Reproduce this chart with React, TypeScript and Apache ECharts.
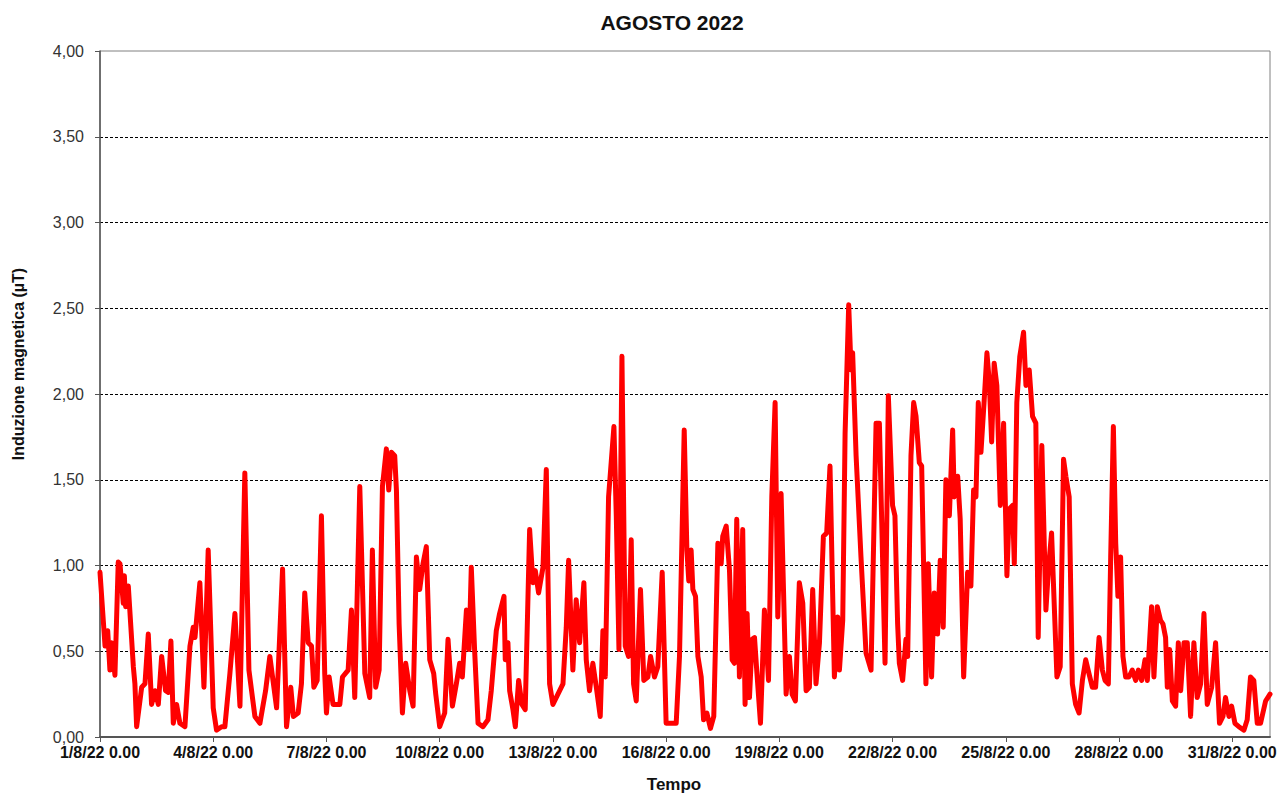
import React, { useEffect, useRef } from "react";
import * as echarts from "echarts";

const TITLE = "AGOSTO 2022";
const Y_NAME = "Induzione magnetica (µT)";
const X_NAME = "Tempo";

// hours since 1/8/22 0.00
const hours = [
  0, 3.2, 4.9, 6.3, 7.4, 9.5, 11.6, 12.7, 14.8, 15.5, 16.3, 18.0, 21.2, 22.2, 23.3, 26.5, 28.6, 30.7, 32.8, 35.0,
  37.1, 39.2, 41.7, 43.4, 45.1, 46.6, 48.7, 50.8, 54.0, 57.2, 59.3, 60.4, 63.5, 66.1, 68.8, 72.0, 74.1, 77.3, 79.4, 82.6,
  85.8, 89.0, 92.1, 94.7, 98.5, 101.7, 105.3, 108.0, 112.3, 116.1, 118.6, 121.3, 123.0, 126.0, 128.1, 130.2, 132.4, 134.5, 136.0, 138.1,
  140.8, 142.9, 144.0, 145.7, 148.2, 152.5, 154.2, 157.8, 159.9, 162.0, 165.2, 168.4, 171.5, 173.2, 175.3, 177.5, 179.6, 182.1, 183.6, 185.3,
  187.4, 188.5, 190.2, 192.3, 194.4, 197.0, 199.1, 201.2, 203.3, 205.4, 207.5, 209.7, 212.2, 213.5, 216.0, 219.2, 221.3, 224.1, 226.6, 228.7,
  230.4, 233.0, 234.7, 236.1, 238.2, 240.4, 243.5, 246.7, 248.8, 252.0, 254.1, 256.9, 257.7, 259.4, 260.5, 262.6, 264.1, 266.2, 268.3, 270.4,
  273.2, 275.3, 276.8, 278.9, 281.7, 283.8, 285.9, 288.0, 291.2, 294.4, 296.5, 298.0, 300.7, 302.8, 305.0, 307.7, 309.2, 311.3, 313.4, 315.6,
  318.1, 319.8, 321.3, 323.4, 326.8, 328.3, 330.0, 331.9, 334.0, 336.1, 337.8, 339.3, 341.0, 343.7, 345.8, 348.4, 350.1, 352.6, 354.7, 357.5,
  360.0, 363.2, 366.4, 368.5, 371.5, 373.2, 374.4, 375.9, 377.0, 378.7, 380.2, 382.3, 383.8, 385.9, 388.2, 390.3, 392.9, 395.0, 396.0, 398.2,
  400.3, 402.0, 403.4, 404.9, 406.6, 408.7, 410.2, 411.5, 413.0, 414.7, 416.2, 417.6, 420.0, 422.5, 425.1, 427.2, 429.3, 431.0, 433.1, 436.3,
  438.4, 440.1, 442.2, 444.7, 446.9, 449.0, 451.1, 453.2, 455.3, 457.5, 460.0, 462.1, 464.2, 467.0, 469.1, 470.2, 472.3, 473.8, 476.1, 477.6,
  478.6, 480.8, 483.9, 487.1, 490.3, 493.5, 495.6, 497.1, 499.2, 501.3, 504.0, 505.5, 507.2, 508.3, 510.4, 512.5, 513.6, 515.7, 517.4, 518.9,
  521.0, 522.5, 525.2, 526.7, 528.8, 530.5, 532.6, 534.3, 536.2, 537.9, 540.1, 542.2, 543.2, 545.4, 547.0, 549.2, 551.7, 553.8, 555.5, 557.0,
  558.5, 560.2, 562.3, 564.0, 565.5, 567.0, 568.6, 570.3, 572.5, 574.6, 576.7, 578.2, 580.3, 581.4, 583.0, 584.9, 587.3, 588.8, 590.9, 593.0,
  595.1, 596.6, 598.9, 601.5, 603.2, 605.1, 608.5, 610.6, 612.7, 614.2, 616.3, 618.3, 620.4, 622.6, 624.7, 626.8, 628.9, 631.0, 633.1, 635.3,
  637.4, 639.1, 641.2, 642.7, 644.4, 645.9, 647.3, 649.0, 650.5, 652.2, 654.3, 656.4, 658.6, 660.3, 662.4, 664.5, 666.0, 668.7, 670.2, 672.3,
  674.4, 675.9, 677.6, 678.7, 680.2, 681.9, 684.0, 685.7, 687.2, 689.3, 691.4, 693.5, 695.6, 697.7, 699.9, 702.0, 704.1, 706.9, 709.4, 711.9,
  714.1, 715.7, 717.9, 719.6, 721.7, 724.2, 727.4, 729.5, 731.6, 733.7, 735.9, 738.0, 741.2, 744.0,
];

// magnetic induction (µT)
const values = [
  0.96, 0.53, 0.62, 0.39, 0.55, 0.36, 1.02, 1.01, 0.78, 0.94, 0.76, 0.88, 0.41, 0.31, 0.06, 0.29, 0.31, 0.60, 0.19, 0.27,
  0.19, 0.47, 0.27, 0.26, 0.56, 0.08, 0.19, 0.08, 0.06, 0.53, 0.64, 0.58, 0.90, 0.29, 1.09, 0.17, 0.04, 0.06, 0.06, 0.37,
  0.72, 0.18, 1.54, 0.39, 0.12, 0.08, 0.27, 0.47, 0.17, 0.98, 0.06, 0.29, 0.12, 0.14, 0.31, 0.84, 0.55, 0.53, 0.29, 0.33,
  1.29, 0.37, 0.14, 0.35, 0.19, 0.19, 0.35, 0.39, 0.74, 0.23, 1.46, 0.37, 0.23, 1.09, 0.29, 0.39, 1.46, 1.68, 1.44, 1.66,
  1.64, 1.44, 0.66, 0.14, 0.43, 0.27, 0.18, 1.05, 0.86, 1.01, 1.11, 0.45, 0.37, 0.25, 0.06, 0.14, 0.57, 0.18, 0.31, 0.43,
  0.35, 0.74, 0.51, 0.99, 0.51, 0.08, 0.06, 0.10, 0.27, 0.62, 0.72, 0.82, 0.45, 0.55, 0.27, 0.16, 0.06, 0.33, 0.19, 0.16,
  1.21, 0.90, 0.97, 0.84, 0.99, 1.56, 0.31, 0.19, 0.25, 0.31, 0.64, 1.03, 0.39, 0.80, 0.55, 0.90, 0.45, 0.27, 0.43, 0.29,
  0.12, 0.62, 0.35, 1.40, 1.81, 1.29, 0.51, 2.22, 0.53, 0.47, 1.15, 0.31, 0.21, 0.86, 0.33, 0.35, 0.47, 0.35, 0.41, 0.96,
  0.08, 0.08, 0.08, 0.47, 1.79, 1.09, 0.91, 1.09, 0.86, 0.82, 0.47, 0.35, 0.10, 0.14, 0.05, 0.12, 1.13, 1.01, 1.17, 1.23,
  0.97, 0.45, 0.43, 1.27, 0.35, 1.21, 0.19, 0.72, 0.23, 0.57, 0.58, 0.39, 0.08, 0.74, 0.33, 1.40, 1.95, 0.70, 1.42, 0.25,
  0.47, 0.25, 0.21, 0.90, 0.78, 0.27, 0.29, 0.86, 0.31, 0.55, 1.17, 1.19, 1.58, 0.35, 0.70, 0.39, 0.68, 1.77, 2.52, 2.14,
  2.24, 1.64, 1.05, 0.49, 0.39, 1.83, 1.83, 1.25, 0.43, 1.99, 1.35, 1.29, 0.66, 0.43, 0.33, 0.57, 0.47, 1.64, 1.95, 1.87,
  1.60, 1.58, 0.31, 1.01, 0.35, 0.84, 0.60, 1.03, 0.64, 1.50, 1.29, 1.79, 1.40, 1.52, 1.27, 0.35, 0.96, 0.88, 1.44, 1.40,
  1.95, 1.66, 1.97, 2.24, 2.07, 1.72, 2.18, 2.05, 1.35, 1.83, 0.94, 1.33, 1.35, 1.01, 1.95, 2.22, 2.36, 2.05, 2.14, 1.87,
  1.83, 0.58, 1.70, 0.74, 0.99, 1.19, 0.35, 0.41, 1.62, 1.52, 1.40, 0.31, 0.19, 0.14, 0.33, 0.45, 0.37, 0.29, 0.29, 0.58,
  0.39, 0.33, 0.31, 1.05, 1.81, 1.13, 0.82, 1.05, 0.47, 0.35, 0.35, 0.39, 0.33, 0.39, 0.33, 0.45, 0.33, 0.76, 0.35, 0.76,
  0.68, 0.66, 0.58, 0.29, 0.51, 0.21, 0.18, 0.55, 0.27, 0.55, 0.55, 0.12, 0.55, 0.23, 0.31, 0.72, 0.19, 0.29, 0.55, 0.08,
  0.12, 0.23, 0.12, 0.18, 0.08, 0.06, 0.04, 0.10, 0.35, 0.33, 0.08, 0.08, 0.21, 0.25,
];

const xTicks = [0, 72, 144, 216, 288, 360, 432, 504, 576, 648, 720];
const yMin = 0;
const yMax = 4;
const yStep = 0.5;

const FONT = "'Liberation Sans', Arial, sans-serif";

export default function App() {
  const ref = useRef<HTMLDivElement>(null);

  useEffect(() => {
    if (!ref.current) return;
    const chart = echarts.init(ref.current, null, { renderer: "svg" });
    const data = hours.map((h, i) => [h, values[i]]);
    chart.setOption({
      animation: false,
      backgroundColor: "#ffffff",
      textStyle: { fontFamily: FONT },
      grid: {
        left: 100,
        right: 12,
        top: 51,
        bottom: 57,
        show: true,
        borderColor: "#808080",
        borderWidth: 1,
        backgroundColor: "transparent",
      },
      graphic: [
        {
          type: "text",
          x: 672,
          y: 22,
          style: {
            text: TITLE,
            font: `bold 21px ${FONT}`,
            fill: "#111",
            align: "center",
            verticalAlign: "middle",
          },
        },
        {
          type: "text",
          x: 674,
          y: 784,
          style: {
            text: X_NAME,
            font: `bold 17px ${FONT}`,
            fill: "#111",
            align: "center",
            verticalAlign: "middle",
          },
        },
        {
          type: "text",
          x: 18,
          y: 364,
          rotation: Math.PI / 2,
          style: {
            text: Y_NAME,
            font: `bold 16px ${FONT}`,
            fill: "#111",
            align: "center",
            verticalAlign: "middle",
          },
        },
      ],
      xAxis: {
        type: "value",
        min: 0,
        max: 744,
        interval: 72,
        axisLine: { show: true, lineStyle: { color: "#555", width: 2 } },
        axisTick: {
          show: true,
          length: 5,
          inside: false,
          customValues: xTicks,
          lineStyle: { color: "#555", width: 1 },
        },
        axisLabel: {
          customValues: xTicks,
          fontFamily: FONT,
          fontSize: 16,
          lineHeight: 14,
          fontWeight: "bold",
          color: "#111",
          margin: 8,
          formatter: (v: number) => `${Math.round(1 + v / 24)}/8/22 0.00`,
        },
        splitLine: { show: false },
      },
      yAxis: {
        type: "value",
        min: yMin,
        max: yMax,
        interval: yStep,
        axisLine: { show: true, lineStyle: { color: "#555", width: 1.5 } },
        axisTick: { show: true, length: 5, lineStyle: { color: "#555" } },
        axisLabel: {
          fontFamily: FONT,
          fontSize: 16,
          lineHeight: 14,
          color: "#333",
          margin: 16,
          formatter: (v: number) => v.toFixed(2).replace(".", ","),
        },
        splitLine: {
          show: true,
          showMinLine: false,
          showMaxLine: false,
          lineStyle: { color: "#000", width: 1, type: [3, 2] },
        },
      },
      series: [
        {
          type: "line",
          data,
          showSymbol: false,
          symbol: "none",
          lineStyle: { color: "#ff0000", width: 5, join: "round", cap: "round" },
          z: 3,
        },
      ],
    });
    return () => chart.dispose();
  }, []);

  return (
    <div
      ref={ref}
      style={{ position: "fixed", left: 0, top: 0, width: 1282, height: 794, background: "#fff" }}
    />
  );
}
